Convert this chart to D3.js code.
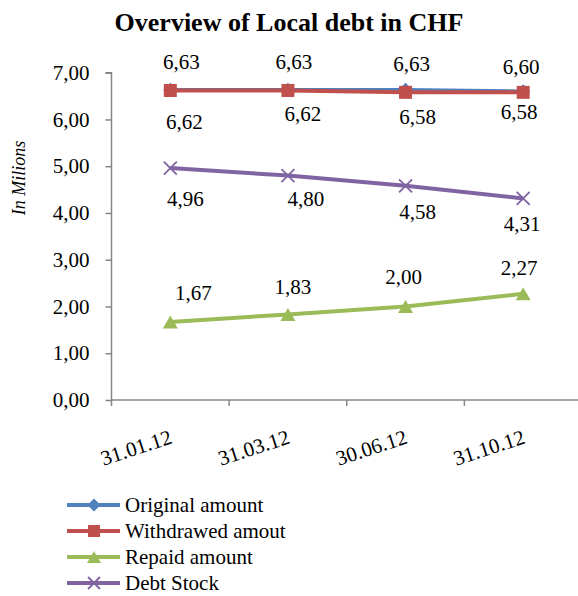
<!DOCTYPE html>
<html>
<head>
<meta charset="utf-8">
<script src="https://cdn.jsdelivr.net/npm/d3@7"></script>
<style>
  html, body { margin: 0; padding: 0; background: #fff; }
  svg text { font-family: "Liberation Serif", "Times New Roman", serif; fill: #000; }
</style>
</head>
<body>
<svg id="chart" width="578" height="596"></svg>
<script>
// Reporting dates (categories)
const dates = ["31.01.12", "31.03.12", "30.06.12", "31.10.12"];

// Series values, in millions of CHF
const originalAmount   = [6.63, 6.63, 6.63, 6.60];
const withdrawedAmount = [6.62, 6.62, 6.58, 6.58];
const repaidAmount     = [1.67, 1.83, 2.00, 2.27];
const debtStock        = [4.96, 4.80, 4.58, 4.31];

// Value axis ticks
const yTicks = [0, 1, 2, 3, 4, 5, 6, 7];

const seriesNames = ["Original amount", "Withdrawed amout", "Repaid amount", "Debt Stock"];

const SERIF = "Liberation Serif, Times New Roman, serif";
const TEXT_SIZE = "21px";
const fmt = v => d3.format(".2f")(v).replace(".", ",");

// Per-point label nudges [dx, dy] (pixels) so value labels clear the lines
const labelNudges = [
  [[11, -28], [6, -28], [6, -26], [-2, -25]],
  [[14, 31], [15, 23], [12, 24], [-4, 19]],
  [[23, -29], [5, -28], [-2, -30], [-4, -26]],
  [[15, 31], [18, 23], [12, 26], [-1, 25]]
];

const series = [
  { name: seriesNames[0], values: originalAmount,   color: "#4F81BD", marker: "diamond" },
  { name: seriesNames[1], values: withdrawedAmount, color: "#C0504D", marker: "square" },
  { name: seriesNames[2], values: repaidAmount,     color: "#9BBB59", marker: "triangle" },
  { name: seriesNames[3], values: debtStock,        color: "#8064A2", marker: "x" }
];

const svg = d3.select("#chart");
const plot = { left: 111.5, right: 582, top: 72.7, bottom: 400 };

const x = d3.scaleBand().domain(dates).range([plot.left, plot.right]);
const y = d3.scaleLinear().domain([0, 7]).range([plot.bottom, plot.top]);
const cx = d => x(d) + x.bandwidth() / 2;

// Title
svg.append("text")
  .attr("x", 289).attr("y", 31)
  .attr("text-anchor", "middle")
  .attr("font-family", SERIF)
  .style("font-size", "26px").style("font-weight", "bold")
  .text("Overview of Local debt in CHF");

// Y axis title
svg.append("text")
  .attr("transform", "translate(25,178) rotate(-90)")
  .attr("text-anchor", "middle")
  .attr("font-family", SERIF)
  .style("font-size", "18px").style("font-style", "italic")
  .text("In Milions");

// Y axis
const yAxis = svg.append("g")
  .attr("transform", `translate(${plot.left},0)`)
  .call(d3.axisLeft(y).tickValues(yTicks).tickFormat(fmt).tickSize(6).tickPadding(16));
yAxis.attr("font-family", SERIF);
yAxis.selectAll("line, path").attr("stroke", "#868686").attr("stroke-width", 1.5);
yAxis.select(".domain").attr("d", `M-6,${plot.top}H0V${plot.bottom}`);
yAxis.selectAll("text").attr("font-family", SERIF).style("font-size", TEXT_SIZE);

// X axis with tick marks between categories
const xAxis = svg.append("g")
  .attr("transform", `translate(0,${plot.bottom})`);
xAxis.append("path")
  .attr("d", `M${plot.left},0H${plot.right}`)
  .attr("stroke", "#868686").attr("stroke-width", 1.5).attr("fill", "none");
const boundaries = dates.map(d => x(d)).concat([x(dates[dates.length - 1]) + x.bandwidth()]);
xAxis.selectAll("line.tick")
  .data(boundaries)
  .join("line")
  .attr("class", "tick")
  .attr("x1", d => d).attr("x2", d => d)
  .attr("y1", 0).attr("y2", 6)
  .attr("stroke", "#868686").attr("stroke-width", 1.5);
xAxis.selectAll("text.cat")
  .data(dates)
  .join("text")
  .attr("class", "cat")
  .attr("transform", d => `translate(${cx(d) + 3},43) rotate(-18)`)
  .attr("text-anchor", "end")
  .attr("font-family", SERIF)
  .style("font-size", TEXT_SIZE)
  .text(d => d);

// Lines and markers
const line = d3.line().x((v, i) => cx(dates[i])).y(v => y(v));

function drawMarker(g, type, color, size) {
  if (type === "diamond") {
    const s = size * 0.55;
    g.append("path").attr("d", `M0,${-s}L${s},0L0,${s}L${-s},0Z`).attr("fill", color);
  } else if (type === "square") {
    const s = size / 2;
    g.append("rect").attr("x", -s).attr("y", -s).attr("width", size).attr("height", size).attr("fill", color);
  } else if (type === "triangle") {
    const s = size / 2;
    g.append("path").attr("d", `M0,${-s}L${s + 1},${s}L${-s - 1},${s}Z`).attr("fill", color);
  } else if (type === "x") {
    const s = size / 2;
    g.append("path").attr("d", `M${-s},${-s}L${s},${s}M${-s},${s}L${s},${-s}`)
      .attr("stroke", color).attr("stroke-width", 1.8).attr("fill", "none");
  }
}

series.forEach(s => {
  const g = svg.append("g");
  g.append("path")
    .datum(s.values)
    .attr("d", line)
    .attr("fill", "none")
    .attr("stroke", s.color)
    .attr("stroke-width", 4)
    .attr("stroke-linejoin", "round");
  s.values.forEach((v, i) => {
    const m = g.append("g").attr("transform", `translate(${cx(dates[i])},${y(v)})`);
    drawMarker(m, s.marker, s.color, 13);
  });
});

// Data labels
series.forEach((s, si) => {
  svg.append("g").selectAll("text")
    .data(s.values)
    .join("text")
    .attr("x", (v, i) => cx(dates[i]) + labelNudges[si][i][0])
    .attr("y", (v, i) => y(v) + labelNudges[si][i][1])
    .attr("dy", "0.35em")
    .attr("text-anchor", "middle")
    .attr("font-family", SERIF)
    .style("font-size", TEXT_SIZE)
    .text(v => fmt(v));
});

// Legend
const legend = svg.append("g").attr("transform", "translate(67,505)");
series.forEach((s, i) => {
  const row = legend.append("g").attr("transform", `translate(0,${i * 26})`);
  row.append("line")
    .attr("x1", 0).attr("x2", 53).attr("y1", 0).attr("y2", 0)
    .attr("stroke", s.color).attr("stroke-width", 4);
  const m = row.append("g").attr("transform", "translate(27,0)");
  drawMarker(m, s.marker, s.color, 12);
  row.append("text")
    .attr("x", 58).attr("y", 0).attr("dy", "0.35em")
    .attr("font-family", SERIF)
    .style("font-size", TEXT_SIZE)
    .text(s.name);
});
</script>
</body>
</html>
